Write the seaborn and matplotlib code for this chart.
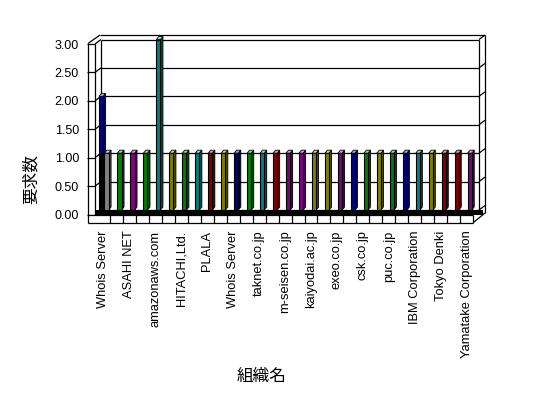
import numpy as np
import matplotlib
matplotlib.use("Agg")
import matplotlib.pyplot as plt
import matplotlib.colors as mcolors
from matplotlib.patches import Polygon, Rectangle
import seaborn as sns

# ---------------- data ----------------
shown_labels = ["Whois Server", "ASAHI NET", "amazonaws.com", "HITACHI,Ltd.", "PLALA",
                "Whois Server", "taknet.co.jp", "m-seisen.co.jp", "kaiyodai.ac.jp",
                "exeo.co.jp", "csk.co.jp", "puc.co.jp", "IBM Corporation",
                "Tokyo Denki", "Yamatake Corporation"]
values = [1, 1, 1, 1, 3, 1, 1, 1, 1, 1, 1, 1, 1, 1, 1,
          1, 1, 1, 1, 1, 1, 1, 1, 1, 1, 1, 1, 1, 1]
bar_colors = ["#808080", "#008000", "#800080", "#008000", "#008080", "#808000",
              "#008000", "#008080", "#800000", "#808000", "#000080", "#008000",
              "#008080", "#800000", "#800080", "#800080", "#808000", "#808000",
              "#800080", "#000080", "#008000", "#808000", "#008000", "#000080",
              "#008080", "#808000", "#800000", "#800000", "#800080"]
back_cats = [0]
back_values = [2]
back_color = "#000080"
y_ticks = [0.0, 0.5, 1.0, 1.5, 2.0, 2.5, 3.0]
x_title = "組織名"
y_title = "要求数"

# ---------------- figure ----------------
sns.set_theme(style="white")
plt.rcParams["font.family"] = ["Liberation Sans", "DejaVu Sans"]

W, H = 548, 398
fig = plt.figure(figsize=(W / 100, H / 100), dpi=100)
fig.patch.set_facecolor("white")

AX_L, AX_R, AX_T, AX_B = 86, 490, 30, 226
ax = fig.add_axes([AX_L / W, (H - AX_B) / H, (AX_R - AX_L) / W, (AX_B - AX_T) / H])
ax.set_facecolor("none")

# pixel <-> data helpers for the 3-D frame decoration
X0, CW = 106.5, 12.97    # px of category 0 bar centre, px per category
Y0, UH = 210.0, 56.83    # px of value 0 on back wall, px per unit


def dx(px):
    return (px - X0) / CW


def dy(py):
    return (Y0 - py) / UH


ax.set_xlim(dx(AX_L), dx(AX_R))
ax.set_ylim(dy(AX_B), dy(AX_T))

LW = 0.9
K = "black"


def line(xs, ys, **kw):
    ax.plot([dx(v) for v in xs], [dy(v) for v in ys], color=K, lw=LW,
            solid_capstyle="butt", **kw)


# back wall + gridlines
ax.add_patch(Rectangle((dx(101), dy(210)), dx(485) - dx(101), dy(35) - dy(210),
                       facecolor="white", edgecolor="none", zorder=0))
for v in y_ticks:
    yb = Y0 - v * UH
    line([101, 479], [yb, yb], zorder=1)
    line([479, 485], [yb, yb - 4.5], zorder=1)
    yf = yb + 4.5
    line([86.5, 95], [yf, yf], zorder=1)
    line([95, 101], [yf, yb], zorder=1)
line([100, 485], [35, 35], zorder=1)
line([101, 101], [39.5, 210], zorder=1)
line([479, 479], [39.5, 210], zorder=1)
line([485, 485], [35, 213], zorder=1)
line([88, 88], [43.5, 222.7], zorder=6)
line([95, 95], [43.5, 214], zorder=1)
line([88, 100], [43.5, 35], zorder=1)

# floor
ax.add_patch(Rectangle((dx(95), dy(214.5)), dx(483) - dx(95), dy(210) - dy(214.5),
                       facecolor="black", edgecolor="none", zorder=1.5))

x_pos = np.arange(len(values))
ids = [f"c{i}" for i in x_pos]

n0 = len(ax.patches)
sns.barplot(x=np.array(back_cats) - 0.42, y=back_values, color=back_color,
            native_scale=True, width=0.32, edgecolor=K, linewidth=0.8,
            saturation=1, ax=ax, zorder=2)
back_patches = ax.patches[n0:]
n1 = len(ax.patches)
sns.barplot(x=x_pos, y=values, hue=ids, palette=bar_colors, native_scale=True,
            dodge=False, legend=False, width=0.32, edgecolor=K, linewidth=0.8,
            saturation=1, ax=ax, zorder=3)
main_patches = ax.patches[n1:]

cdx, cdy = 2.5 / CW, 3.0 / UH
for p, z in [(bp, 2) for bp in back_patches] + [(mp, 3) for mp in main_patches]:
    x0, w, h = p.get_x(), p.get_width(), p.get_height()
    if not np.isfinite(h) or h <= 0:
        continue
    fc = np.array(mcolors.to_rgb(p.get_facecolor()))
    light = fc * 0.35 + 0.65
    top = Polygon([(x0, h), (x0 + cdx, h + cdy), (x0 + w + cdx, h + cdy), (x0 + w, h)],
                  closed=True, facecolor=light, edgecolor=K, lw=0.6, zorder=z)
    ax.add_patch(top)
    side = Polygon([(x0 + w, 0), (x0 + w + cdx, cdy), (x0 + w + cdx, h + cdy), (x0 + w, h)],
                   closed=True, facecolor=fc * 0.6, edgecolor=K, lw=0.6, zorder=z - 0.1)
    ax.add_patch(side)

# black side face of the front bar of the first cluster
fp = main_patches[0]
ax.add_patch(Polygon([(fp.get_x() - 5 / CW, 0), (fp.get_x(), 0),
                      (fp.get_x(), fp.get_height()), (fp.get_x() - 5 / CW, fp.get_height())],
                     closed=True, facecolor="black", edgecolor="none", zorder=3.05))

# floor front face with category dividers
FL, FR, FT, FB = 88, 473.1, 214.5, 222.7
ax.add_patch(Rectangle((dx(FL), dy(FB)), dx(FR) - dx(FL), dy(FT) - dy(FB),
                       facecolor="white", edgecolor="none", zorder=5))
line([FL, FR], [FB, FB], zorder=6)
line([FL, FR], [FT, FT], zorder=6)
for k in range(1, len(values) + 1):
    xp = 97 + k * CW
    line([xp, xp], [FT, FB], zorder=6)
line([FR, 485], [FB, 213], zorder=6)

# ticks and labels
ax.set_yticks([v - 4.5 / UH for v in y_ticks], [f"{v:.2f}" for v in y_ticks])
ax.set_xticks([i - 3 / CW for i in range(0, len(values), 2)], shown_labels, rotation=90)
ax.tick_params(axis="y", length=0, pad=5, labelsize=9, colors="black")
ax.tick_params(axis="x", length=0, pad=3.3, labelsize=9.3, colors="black")
for s in ax.spines.values():
    s.set_visible(False)
ax.set_xlabel("")
ax.set_ylabel("")
ax.grid(False)

cjk = ["Noto Sans CJK JP", "DejaVu Sans"]
fig.text(262 / W, 1 - 376 / H, x_title, ha="center", va="center", fontsize=12,
         family=cjk, color="black")
fig.text(31 / W, 1 - 179 / H, y_title, ha="center", va="center", fontsize=12,
         rotation=90, family=cjk, color="black")

fig.savefig("out.png", dpi=100, facecolor="white")
